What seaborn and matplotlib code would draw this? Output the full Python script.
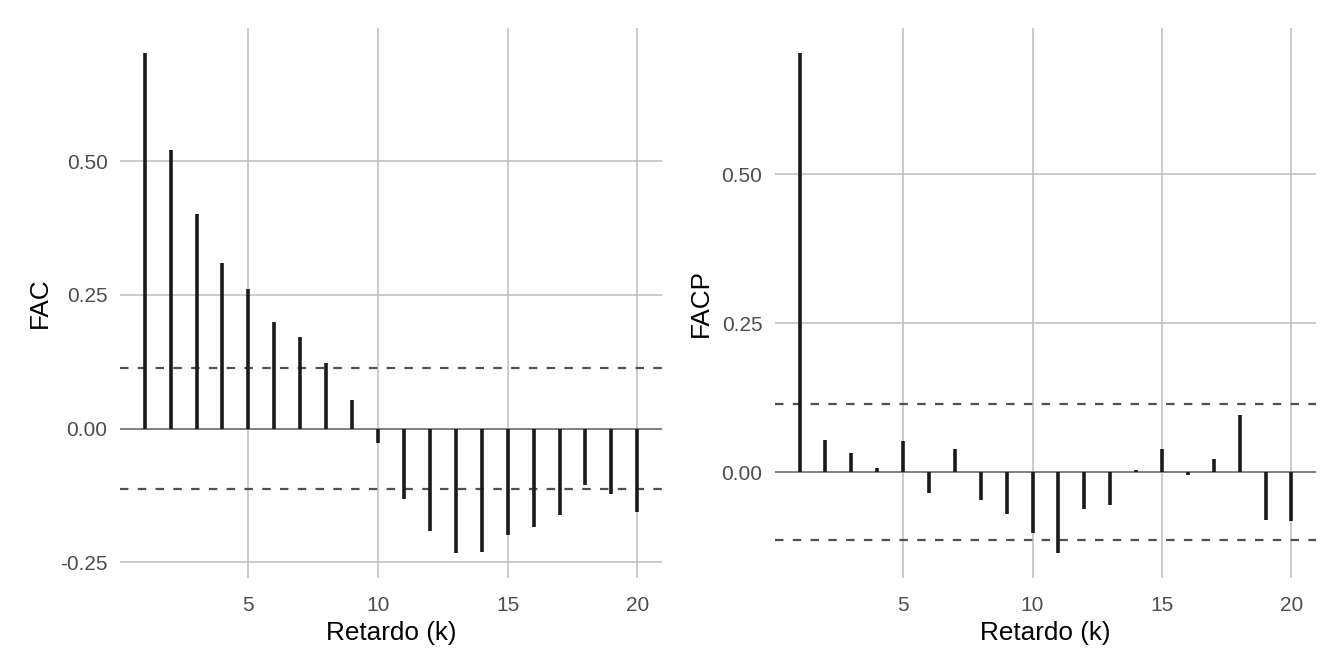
import numpy as np
import matplotlib
matplotlib.use("Agg")
import matplotlib.pyplot as plt
import seaborn as sns

# Retardos e valores
lags = list(range(1, 21))
fac = [0.703, 0.522, 0.401, 0.309, 0.262, 0.200, 0.172, 0.122, 0.054, -0.027,
       -0.131, -0.192, -0.233, -0.232, -0.199, -0.185, -0.161, -0.105, -0.122, -0.157]
facp = [0.703, 0.055, 0.033, 0.007, 0.052, -0.034, 0.040, -0.046, -0.069, -0.102,
        -0.135, -0.061, -0.055, 0.004, 0.040, -0.005, 0.022, 0.097, -0.079, -0.082]
limite = 0.114  # intervalo de confiança

x_ticks = [5, 10, 15, 20]
y_ticks_fac = [-0.25, 0.00, 0.25, 0.50]
y_ticks_facp = [0.00, 0.25, 0.50]

sns.set_theme(style="whitegrid")
plt.rcParams['font.family'] = ['Liberation Sans', 'DejaVu Sans']

fig = plt.figure(figsize=(13.44, 6.72), dpi=100)
ax1 = fig.add_axes([120 / 1344, 94 / 672, 542 / 1344, 550 / 672])
ax2 = fig.add_axes([775 / 1344, 94 / 672, 541 / 1344, 550 / 672])


def expandir(vals, frac=0.05):
    lo, hi = min(vals), max(vals)
    d = (hi - lo) * frac
    return lo - d, hi + d


def painel(ax, valores, nome, yticks):
    ax.set_facecolor('white')
    ax.grid(True, color='#BDBDBD', linewidth=1.1)
    ax.set_axisbelow(True)
    ax.axhline(0, color='#808080', linewidth=1.4, zorder=1)
    ax.axhline(limite, color='#505050', linewidth=1.6, linestyle=(0, (3.8, 4.2)), zorder=2)
    ax.axhline(-limite, color='#505050', linewidth=1.6, linestyle=(0, (3.8, 4.2)), zorder=2)
    ax.vlines(lags, 0, valores, color='#1a1a1a', linewidth=2.6, zorder=3,
              capstyle='butt')
    ax.set_xlim(*expandir(lags))
    ax.set_ylim(*expandir(list(valores) + [limite, -limite, 0]))
    ax.set_xticks(x_ticks)
    ax.set_yticks(yticks)
    ax.set_yticklabels([f"{v:.2f}" for v in yticks])
    ax.tick_params(axis='both', length=0, labelsize=15, labelcolor='#4D4D4D')
    ax.tick_params(axis='x', pad=13)
    ax.tick_params(axis='y', pad=9)
    ax.set_xlabel('Retardo (k)', fontsize=18.8, color='black', labelpad=4)
    ax.set_ylabel(nome, fontsize=18.8, color='black', labelpad=6)
    sns.despine(ax=ax, left=True, bottom=True)


painel(ax1, fac, 'FAC', y_ticks_fac)
painel(ax2, facp, 'FACP', y_ticks_facp)

fig.savefig('out.png', dpi=100, facecolor='white')
